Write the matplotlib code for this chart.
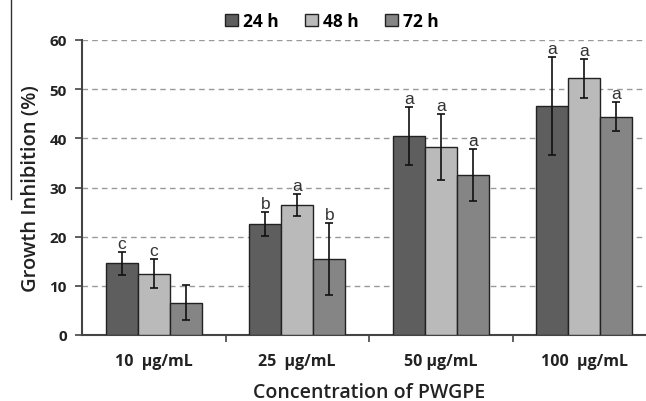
import numpy as np
import matplotlib.pyplot as plt
from matplotlib.lines import Line2D

# data
categories = ['10  µg/mL', '25  µg/mL', '50 µg/mL', '100  µg/mL']
series = ['24 h', '48 h', '72 h']
values = [
    [14.6, 22.6, 40.5, 46.6],   # 24 h
    [12.5, 26.4, 38.3, 52.2],   # 48 h
    [6.6, 15.4, 32.5, 44.4],    # 72 h
]
errors = [
    [2.3, 2.4, 5.9, 10.0],
    [3.0, 2.2, 6.7, 4.0],
    [3.5, 7.3, 5.3, 3.0],
]
letters = [
    ['c', 'b', 'a', 'a'],
    ['c', 'a', 'a', 'a'],
    ['', 'b', 'a', 'a'],
]
colors = ['#5e5e5e', '#bababa', '#858585']

plt.rcParams['font.family'] = ['Open Sans', 'DejaVu Sans']

fig = plt.figure(figsize=(6.46, 4.02), dpi=100)
ax = fig.add_axes([82 / 646, 1 - 336 / 402, 574 / 646, 295 / 402])

x = np.arange(len(categories))
w = 0.223
for i, s in enumerate(series):
    xs = x + (i - 1) * w
    ax.bar(xs, values[i], w, color=colors[i], edgecolor='#222222', linewidth=1.0,
           label=s, zorder=3)
    ax.errorbar(xs, values[i], yerr=errors[i], fmt='none', ecolor='#111111',
                elinewidth=1.2, capsize=3, capthick=1.2, zorder=4)
    for xi, v, e, t in zip(xs, values[i], errors[i], letters[i]):
        if t:
            ax.text(xi, v + e + 0.2, t, ha='center', va='bottom', fontsize=12.5,
                    color='#333333', family=['Liberation Sans', 'DejaVu Sans'])

ax.set_xlim(-0.5, 3.5)
ax.set_ylim(0, 60)
ax.set_yticks(range(0, 61, 10))
ax.yaxis.grid(True, linestyle=(0, (4, 3)), color='#999999', linewidth=1.0, zorder=0)
ax.set_axisbelow(True)

ax.set_xticks(x)
ax.set_xticklabels(categories, fontsize=11.5, fontweight='bold', color='#222222')
ax.tick_params(axis='x', which='major', length=0, pad=13)
ax.set_xticks(np.arange(0.5, 3.5, 1), minor=True)
ax.tick_params(axis='x', which='minor', length=5, width=1.2, direction='out', color='#444444')
ax.tick_params(axis='y', length=5, width=1.2, color='#444444', labelsize=11, pad=6)
for lab in ax.get_yticklabels():
    lab.set_fontweight('bold')
    lab.set_color('#222222')

for sp in ['top', 'right']:
    ax.spines[sp].set_visible(False)
for sp in ['left', 'bottom']:
    ax.spines[sp].set_linewidth(1.5)
    ax.spines[sp].set_color('#444444')

ax.set_xlabel('Concentration of PWGPE', fontsize=14, fontweight='semibold',
              color='#222222', labelpad=9)
ax.set_ylabel('Growth Inhibition (%)', fontsize=14.5, fontweight='semibold',
              color='#222222', labelpad=6)

leg = fig.legend(loc='center', bbox_to_anchor=(332 / 646, 1 - 22 / 402), ncol=3,
                 frameon=False, handlelength=0.75, handleheight=0.75, handletextpad=0.3,
                 columnspacing=1.5, prop={'weight': 'bold', 'size': 12.5})
for h in leg.legend_handles:
    h.set_edgecolor('#222222')

# thin vertical rule at the left edge seen in the reference
fig.add_artist(Line2D([11 / 646, 11 / 646], [1.0, 1 - 200 / 402], color='#333333',
                      linewidth=1.0))

fig.savefig('out.png', dpi=100)
